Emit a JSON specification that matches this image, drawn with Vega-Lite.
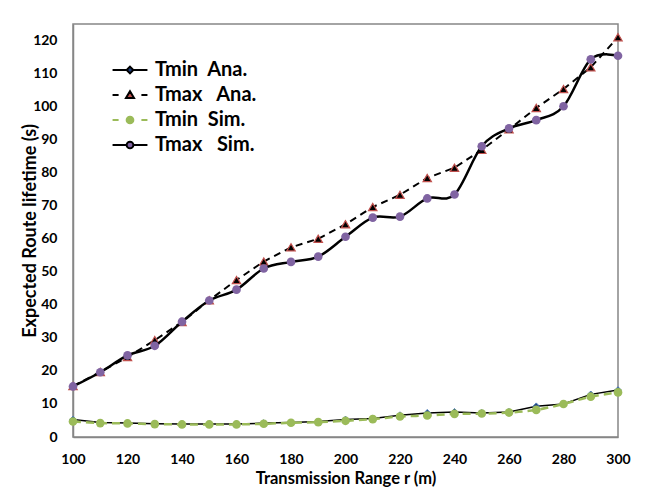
{
  "$schema": "https://vega.github.io/schema/vega-lite/v6.json",
  "width": 545,
  "height": 413,
  "autosize": {"type": "none"},
  "padding": {"left": 73, "top": 24, "right": 28, "bottom": 54},
  "background": "white",
  "config": {
    "font": "Lato",
    "view": {"stroke": "#868686", "strokeWidth": 1.5},
    "axis": {
      "domainColor": "#868686",
      "domainWidth": 1.5,
      "ticks": false,
      "grid": false,
      "labelFlush": false,
      "labelColor": "#000000",
      "labelFont": "Lato",
      "labelFontWeight": "bold",
      "labelFontSize": 14,
      "titleColor": "#000000",
      "titleFont": "Lato",
      "titleFontWeight": "bold"
    }
  },
  "data": {
    "values": [
      {"r": 100, "series": "Tmin Ana.", "t": 5.3}, {"r": 110, "series": "Tmin Ana.", "t": 4.4}, {"r": 120, "series": "Tmin Ana.", "t": 4.2}, {"r": 130, "series": "Tmin Ana.", "t": 4.0}, {"r": 140, "series": "Tmin Ana.", "t": 3.9}, {"r": 150, "series": "Tmin Ana.", "t": 3.9}, {"r": 160, "series": "Tmin Ana.", "t": 3.9}, {"r": 170, "series": "Tmin Ana.", "t": 4.2}, {"r": 180, "series": "Tmin Ana.", "t": 4.4}, {"r": 190, "series": "Tmin Ana.", "t": 4.7}, {"r": 200, "series": "Tmin Ana.", "t": 5.3}, {"r": 210, "series": "Tmin Ana.", "t": 5.6}, {"r": 220, "series": "Tmin Ana.", "t": 6.6}, {"r": 230, "series": "Tmin Ana.", "t": 7.3}, {"r": 240, "series": "Tmin Ana.", "t": 7.6}, {"r": 250, "series": "Tmin Ana.", "t": 7.3}, {"r": 260, "series": "Tmin Ana.", "t": 7.6}, {"r": 270, "series": "Tmin Ana.", "t": 9.3}, {"r": 280, "series": "Tmin Ana.", "t": 10.0}, {"r": 290, "series": "Tmin Ana.", "t": 12.9}, {"r": 300, "series": "Tmin Ana.", "t": 14.2},
      {"r": 100, "series": "Tmax Ana.", "t": 15.4}, {"r": 110, "series": "Tmax Ana.", "t": 19.7}, {"r": 120, "series": "Tmax Ana.", "t": 24.2}, {"r": 130, "series": "Tmax Ana.", "t": 29.3}, {"r": 140, "series": "Tmax Ana.", "t": 34.8}, {"r": 150, "series": "Tmax Ana.", "t": 41.4}, {"r": 160, "series": "Tmax Ana.", "t": 47.5}, {"r": 170, "series": "Tmax Ana.", "t": 53.1}, {"r": 180, "series": "Tmax Ana.", "t": 57.4}, {"r": 190, "series": "Tmax Ana.", "t": 60.0}, {"r": 200, "series": "Tmax Ana.", "t": 64.4}, {"r": 210, "series": "Tmax Ana.", "t": 69.6}, {"r": 220, "series": "Tmax Ana.", "t": 73.3}, {"r": 230, "series": "Tmax Ana.", "t": 78.4}, {"r": 240, "series": "Tmax Ana.", "t": 81.5}, {"r": 250, "series": "Tmax Ana.", "t": 86.9}, {"r": 260, "series": "Tmax Ana.", "t": 93.1}, {"r": 270, "series": "Tmax Ana.", "t": 99.6}, {"r": 280, "series": "Tmax Ana.", "t": 105.3}, {"r": 290, "series": "Tmax Ana.", "t": 111.9}, {"r": 300, "series": "Tmax Ana.", "t": 121.0},
      {"r": 100, "series": "Tmin Sim.", "t": 4.7}, {"r": 110, "series": "Tmin Sim.", "t": 4.2}, {"r": 120, "series": "Tmin Sim.", "t": 4.1}, {"r": 130, "series": "Tmin Sim.", "t": 3.9}, {"r": 140, "series": "Tmin Sim.", "t": 3.8}, {"r": 150, "series": "Tmin Sim.", "t": 3.8}, {"r": 160, "series": "Tmin Sim.", "t": 3.8}, {"r": 170, "series": "Tmin Sim.", "t": 4.0}, {"r": 180, "series": "Tmin Sim.", "t": 4.3}, {"r": 190, "series": "Tmin Sim.", "t": 4.5}, {"r": 200, "series": "Tmin Sim.", "t": 4.9}, {"r": 210, "series": "Tmin Sim.", "t": 5.4}, {"r": 220, "series": "Tmin Sim.", "t": 6.2}, {"r": 230, "series": "Tmin Sim.", "t": 6.5}, {"r": 240, "series": "Tmin Sim.", "t": 7.0}, {"r": 250, "series": "Tmin Sim.", "t": 7.1}, {"r": 260, "series": "Tmin Sim.", "t": 7.4}, {"r": 270, "series": "Tmin Sim.", "t": 8.2}, {"r": 280, "series": "Tmin Sim.", "t": 10.0}, {"r": 290, "series": "Tmin Sim.", "t": 12.2}, {"r": 300, "series": "Tmin Sim.", "t": 13.5},
      {"r": 100, "series": "Tmax Sim.", "t": 15.3}, {"r": 110, "series": "Tmax Sim.", "t": 19.6}, {"r": 120, "series": "Tmax Sim.", "t": 24.7}, {"r": 130, "series": "Tmax Sim.", "t": 27.6}, {"r": 140, "series": "Tmax Sim.", "t": 34.9}, {"r": 150, "series": "Tmax Sim.", "t": 41.3}, {"r": 160, "series": "Tmax Sim.", "t": 44.6}, {"r": 170, "series": "Tmax Sim.", "t": 51.0}, {"r": 180, "series": "Tmax Sim.", "t": 53.0}, {"r": 190, "series": "Tmax Sim.", "t": 54.6}, {"r": 200, "series": "Tmax Sim.", "t": 60.6}, {"r": 210, "series": "Tmax Sim.", "t": 66.4}, {"r": 220, "series": "Tmax Sim.", "t": 66.7}, {"r": 230, "series": "Tmax Sim.", "t": 72.2}, {"r": 240, "series": "Tmax Sim.", "t": 73.4}, {"r": 250, "series": "Tmax Sim.", "t": 88.0}, {"r": 260, "series": "Tmax Sim.", "t": 93.4}, {"r": 270, "series": "Tmax Sim.", "t": 95.9}, {"r": 280, "series": "Tmax Sim.", "t": 100.1}, {"r": 290, "series": "Tmax Sim.", "t": 114.3}, {"r": 300, "series": "Tmax Sim.", "t": 115.4}
    ]
  },
  "encoding": {
    "x": {
      "field": "r", "type": "quantitative",
      "scale": {"domain": [100, 300], "nice": false, "zero": false},
      "axis": {"values": [100, 120, 140, 160, 180, 200, 220, 240, 260, 280, 300], "title": "Transmission Range r (m)", "labelPadding": 15, "titlePadding": 4, "titleFontSize": 16.5}
    },
    "y": {
      "field": "t", "type": "quantitative",
      "scale": {"domain": [0, 125], "nice": false},
      "axis": {"values": [0, 10, 20, 30, 40, 50, 60, 70, 80, 90, 100, 110, 120], "title": "Expected Route lifetime (s)", "labelPadding": 16, "titlePadding": -7, "titleFontSize": 18}
    }
  },
  "layer": [
    {"transform": [{"filter": "datum.series == 'Tmin Ana.'"}], "mark": {"type": "line", "color": "#000000", "strokeWidth": 1.5}},
    {"transform": [{"filter": "datum.series == 'Tmin Ana.'"}], "mark": {"type": "point", "shape": "diamond", "filled": true, "size": 45, "fill": "#1F3D7A", "stroke": "#4F81BD", "strokeWidth": 1, "opacity": 1}},
    {"transform": [{"filter": "datum.series == 'Tmax Ana.'"}], "mark": {"type": "line", "color": "#000000", "strokeWidth": 2, "strokeDash": [7, 5]}},
    {"transform": [{"filter": "datum.series == 'Tmax Ana.'"}], "mark": {"type": "point", "shape": "triangle-up", "filled": true, "size": 70, "fill": "#000000", "stroke": "#C0504D", "strokeWidth": 1.2, "opacity": 1}},
    {"transform": [{"filter": "datum.series == 'Tmin Sim.'"}], "mark": {"type": "line", "color": "#9BBB59", "strokeWidth": 2.5, "strokeDash": [8, 5], "interpolate": "cardinal"}},
    {"transform": [{"filter": "datum.series == 'Tmin Sim.'"}], "mark": {"type": "point", "shape": "circle", "filled": true, "size": 75, "fill": "#9BBB59", "strokeWidth": 0, "opacity": 1}},
    {"transform": [{"filter": "datum.series == 'Tmax Sim.'"}], "mark": {"type": "line", "color": "#000000", "strokeWidth": 2.5, "interpolate": "cardinal"}},
    {"transform": [{"filter": "datum.series == 'Tmax Sim.'"}], "mark": {"type": "point", "shape": "circle", "filled": true, "size": 75, "fill": "#8064A2", "strokeWidth": 0, "opacity": 1}},
    {
      "transform": [{"filter": "datum.r == 100"}],
      "mark": {"type": "point", "filled": true, "opacity": 0},
      "encoding": {
        "shape": {
          "field": "series", "type": "nominal",
          "scale": {
            "domain": ["Tmin Ana.", "Tmax Ana.", "Tmin Sim.", "Tmax Sim."],
            "range": [
              "M-2.6,0H-0.5M0.5,0H2.6M0,-0.5L0.5,0L0,0.5L-0.5,0Z",
              "M-2.6,0H-1.7M1.7,0H2.6M0,-0.55L0.6,0.45L-0.6,0.45Z",
              "M-2.6,0H-1.7M1.7,0H2.6M0.5,0A0.5,0.5,0,1,1,-0.5,0A0.5,0.5,0,1,1,0.5,0Z",
              "M-2.6,0H-0.5M0.5,0H2.6M0.5,0A0.5,0.5,0,1,1,-0.5,0A0.5,0.5,0,1,1,0.5,0Z"
            ]
          },
          "legend": {
            "title": null,
            "orient": "none",
            "legendX": 47,
            "legendY": 36,
            "symbolSize": 180,
            "symbolStrokeWidth": 2,
            "symbolOpacity": 1,
            "labelFont": "Lato",
            "labelFontSize": 20,
            "labelFontWeight": "bold",
            "labelColor": "#000000",
            "labelOffset": 15,
            "rowPadding": 5,
            "labelExpr": "indexof(datum.label, 'Tmax') == 0 ? replace(datum.label, ' ', '\u00a0\u00a0\u00a0') : replace(datum.label, ' ', '\u00a0\u00a0')"
          }
        },
        "fill": {
          "field": "series", "type": "nominal",
          "scale": {"domain": ["Tmin Ana.", "Tmax Ana.", "Tmin Sim.", "Tmax Sim."], "range": ["#1F3D7A", "#C0504D", "#9BBB59", "#8064A2"]}
        },
        "stroke": {
          "field": "series", "type": "nominal",
          "scale": {"domain": ["Tmin Ana.", "Tmax Ana.", "Tmin Sim.", "Tmax Sim."], "range": ["#000000", "#000000", "#9BBB59", "#000000"]}
        }
      }
    }
  ]
}
